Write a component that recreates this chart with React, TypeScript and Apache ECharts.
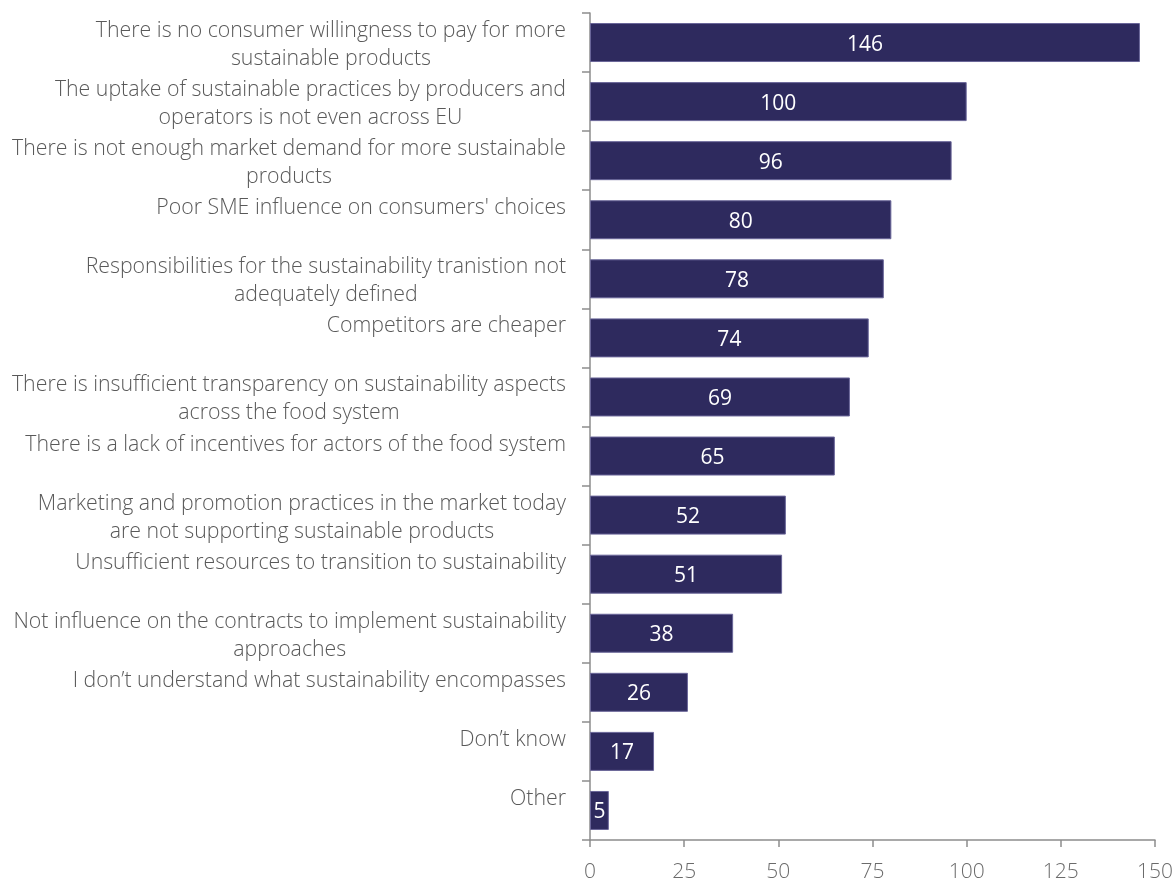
import React, { useEffect, useRef } from 'react';
import * as echarts from 'echarts';

const categories: string[] = [
  'There is no consumer willingness to pay for more\nsustainable products',
  'The uptake of sustainable practices by producers and\noperators is not even across EU',
  'There is not enough market demand for more sustainable\nproducts',
  "Poor SME influence on consumers' choices",
  'Responsibilities for the sustainability tranistion not\nadequately defined',
  'Competitors are cheaper',
  'There is insufficient transparency on sustainability aspects\nacross the food system',
  'There is a lack of incentives for actors of the food system',
  'Marketing and promotion practices in the market today\nare not supporting sustainable products',
  'Unsufficient resources to transition to sustainability',
  'Not influence on the contracts to implement sustainability\napproaches',
  'I don’t understand what sustainability encompasses',
  'Don’t know',
  'Other',
];

const values: number[] = [146, 100, 96, 80, 78, 74, 69, 65, 52, 51, 38, 26, 17, 5];

const xMin = 0;
const xMax = 150;
const xStep = 25;

const FONT = "'Open Sans', sans-serif";

export default function App() {
  const ref = useRef<HTMLDivElement>(null);
  useEffect(() => {
    const chart = echarts.init(ref.current!, null, { renderer: 'svg' });
    chart.setOption({
      animation: false,
      grid: { left: 590, right: 20, top: 13, bottom: 41, containLabel: false },
      xAxis: {
        type: 'value',
        min: xMin,
        max: xMax,
        interval: xStep,
        axisLine: { show: true, lineStyle: { color: '#8c8c8c', width: 1.5 } },
        axisTick: { show: true, length: 7, lineStyle: { color: '#8c8c8c', width: 1.5 } },
        splitLine: { show: false },
        axisLabel: {
          color: '#6b6b6b',
          fontSize: 21,
          fontFamily: FONT,
          fontWeight: 300,
          margin: 19,
          lineHeight: 21,
        },
      },
      yAxis: {
        type: 'category',
        inverse: true,
        data: categories,
        axisLine: { show: true, lineStyle: { color: '#8c8c8c', width: 1.5 } },
        axisTick: { show: true, length: 8, alignWithLabel: false, lineStyle: { color: '#8c8c8c', width: 1.5 } },
        axisLabel: {
          interval: 0,
          margin: 24,
          formatter: (v: string) => {
            const lines = v.split('\n');
            if (lines.length === 1) lines.push(' ');
            return lines.map((l) => `{c|${l}}`).join('\n');
          },
          rich: {
            c: {
              align: 'center',
              color: '#595959',
              fontSize: 21.3,
              fontFamily: FONT,
              fontWeight: 300,
              lineHeight: 28,
            },
          },
        },
      },
      series: [
        {
          type: 'bar',
          data: values,
          barCategoryGap: '34%',
          itemStyle: { color: '#2e2a5e', borderColor: '#6a6699', borderWidth: 1 },
          label: {
            show: true,
            position: 'inside',
            color: '#ffffff',
            fontSize: 21,
            fontFamily: FONT,
          },
        },
      ],
    });
    return () => chart.dispose();
  }, []);
  return (
    <div
      ref={ref}
      style={{ position: 'fixed', left: 0, top: 0, width: 1176, height: 881 }}
    />
  );
}
